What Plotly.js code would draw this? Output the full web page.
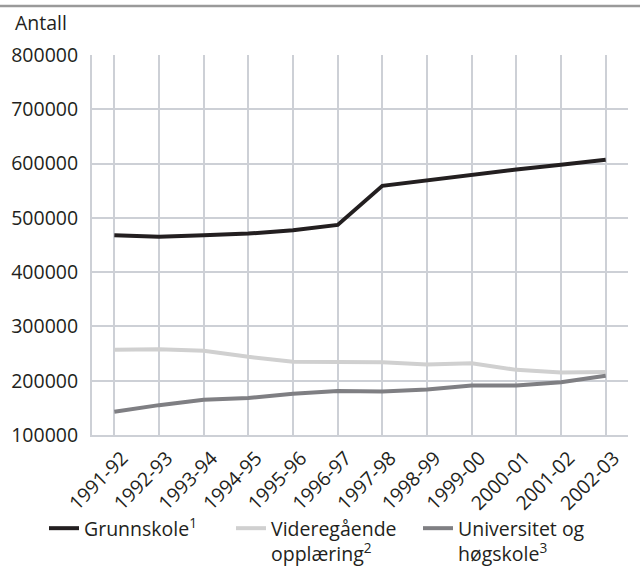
<!DOCTYPE html>
<html>
<head>
<meta charset="utf-8">
<script src="https://cdn.plot.ly/plotly-3.0.1.min.js"></script>
<style>html,body{margin:0;padding:0;background:#fff;}#chart{width:640px;height:567px;}</style>
</head>
<body>
<div id="chart"></div>
<script>
const years = ["1991-92","1992-93","1993-94","1994-95","1995-96","1996-97","1997-98","1998-99","1999-00","2000-01","2001-02","2002-03"];
const grunnskole = [468000,465000,468000,471000,477000,487000,559000,569000,580000,589000,598000,607000];
const videregaende = [257000,258000,255000,244000,235000,235000,234000,230000,232000,220000,215000,216000];
const universitet = [143000,155000,165000,168000,176000,181000,180000,184000,191000,191000,197000,209000];
const yTicks = [100000,200000,300000,400000,500000,600000,700000,800000];

const W = 640, H = 567;
const mL = 92, mR = 12, mT = 55, mB = 132;
const pw = W - mL - mR, ph = H - mT - mB;
const px = v => (v - mL) / pw;
const py = v => (H - mB - v) / ph;

const font = "'Open Sans', 'Noto Sans', sans-serif";
const gridC = "#cdd0d6";
const fs = 19.5;

const traces = [
  {x: years, y: grunnskole, name: "Grunnskole<sup>1</sup>", mode: "lines", line: {color: "#231f20", width: 4}},
  {x: years, y: videregaende, name: "Videregående<br>opplæring<sup>2</sup>", mode: "lines", line: {color: "#d0d0d0", width: 4}},
  {x: years, y: universitet, name: "Universitet og<br>høgskole<sup>3</sup>", mode: "lines", line: {color: "#7f7f83", width: 4}}
];

const layout = {
  width: W, height: H,
  margin: {l: mL, r: mR, t: mT, b: mB, pad: 0, autoexpand: false},
  paper_bgcolor: "#fff", plot_bgcolor: "#fff",
  font: {family: font, color: "#231f20", size: fs},
  showlegend: true,
  legend: {orientation: "h", x: px(44), xanchor: "left", y: py(509), yanchor: "top",
           font: {size: fs, color: "#231f20"}, valign: "top", itemgap: 0,
           entrywidth: 142, entrywidthmode: "pixels", bgcolor: "rgba(0,0,0,0)"},
  xaxis: {type: "category", range: [-0.5, 11.5], showgrid: true, gridcolor: gridC, gridwidth: 2,
          showline: true, linecolor: gridC, linewidth: 2, tickangle: -45, ticks: "", automargin: false,
          ticklabelshift: 8, ticklabelstandoff: 2,
          tickfont: {size: fs, color: "#231f20"}, zeroline: false, fixedrange: true},
  yaxis: {range: [100000, 800000], tickvals: yTicks, ticktext: yTicks.map(String), automargin: false,
          showgrid: true, gridcolor: gridC, gridwidth: 2, showline: true, linecolor: gridC, linewidth: 2,
          ticks: "", ticklabelstandoff: 8, tickfont: {size: fs, color: "#231f20"}, zeroline: false, fixedrange: true},
  annotations: [
    {text: "Antall", xref: "paper", yref: "paper", x: px(13), y: py(22), xanchor: "left", yanchor: "middle",
     showarrow: false, font: {size: fs, color: "#231f20"}}
  ],
  shapes: [
    {type: "line", xref: "paper", yref: "paper", x0: px(0), x1: px(640), y0: py(6), y1: py(6),
     line: {color: "#9a9a9a", width: 2.5}}
  ]
};

Plotly.newPlot("chart", traces, layout, {displayModeBar: false, staticPlot: true});
</script>
</body>
</html>
